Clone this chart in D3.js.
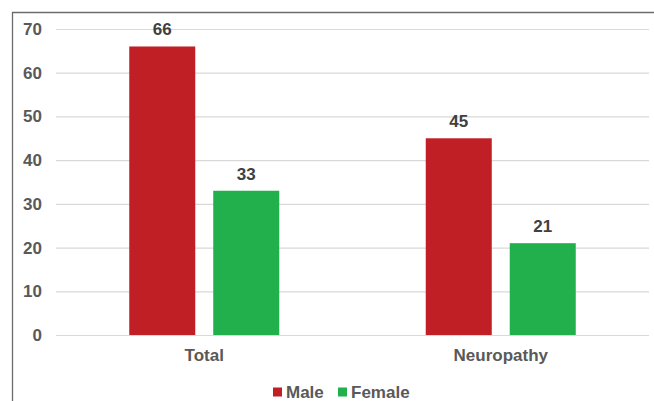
<!DOCTYPE html>
<html>
<head>
<meta charset="utf-8">
<script src="https://cdn.jsdelivr.net/npm/d3@7"></script>
<style>
  html, body { margin: 0; padding: 0; background: #fff; }
  svg { display: block; font-family: "Liberation Sans", Arial, sans-serif; font-weight: bold; }
</style>
</head>
<body>
<svg id="chart" width="654" height="401"></svg>
<script>
// Patient counts by sex
const categories = ["Total", "Neuropathy"];
const seriesNames = ["Male", "Female"];
const maleValues = [66, 45];
const femaleValues = [33, 21];
const yTicks = [0, 10, 20, 30, 40, 50, 60, 70];
const colors = ["#C01F26", "#21B04B"];

const svg = d3.select("#chart");
const W = 654, H = 401;
const margin = { left: 56, right: 5, top: 29, bottom: 66 };
const plotRight = W - margin.right;
const plotBottom = H - margin.bottom;
const groupWidth = 150;

// Outer frame (left and top edges visible)
svg.append("path")
  .attr("d", `M12.5,${H} L12.5,12.5 L${W},12.5`)
  .attr("fill", "none")
  .attr("stroke", "#6b6b6b")
  .attr("stroke-width", 1.3);

const y = d3.scaleLinear().domain([0, 70]).range([plotBottom, margin.top]);
const x0 = d3.scaleBand().domain(categories).range([margin.left, plotRight]).paddingInner(0).paddingOuter(0);
const bw = x0.bandwidth();
const x1 = d3.scaleBand().domain(seriesNames)
  .range([(bw - groupWidth) / 2, (bw + groupWidth) / 2])
  .paddingInner(0.214).paddingOuter(0);

// Gridlines and value axis
const yAxis = d3.axisLeft(y).tickValues(yTicks).tickSize(-(plotRight - margin.left)).tickPadding(14);
const gy = svg.append("g").attr("transform", `translate(${margin.left},0)`).call(yAxis);
gy.select(".domain").remove();
gy.selectAll(".tick line").attr("stroke", "#d9d9d9").attr("stroke-width", 1.2);
gy.selectAll(".tick text")
  .attr("fill", "#595959")
  .attr("font-size", 17)
  .attr("font-weight", "bold")
  .attr("font-family", "Liberation Sans, Arial, sans-serif");

// Bars
const rows = categories.map((c, i) => ({ cat: c, vals: [maleValues[i], femaleValues[i]] }));
const groups = svg.append("g").selectAll("g").data(rows).join("g")
  .attr("transform", d => `translate(${x0(d.cat)},0)`);

const cells = d => d.vals.map((v, j) => ({ key: seriesNames[j], v, j }));

groups.selectAll("rect").data(cells).join("rect")
  .attr("x", d => x1(d.key))
  .attr("y", d => y(d.v))
  .attr("width", x1.bandwidth())
  .attr("height", d => y(0) - y(d.v))
  .attr("fill", d => colors[d.j]);

groups.selectAll("text.val").data(cells).join("text")
  .attr("class", "val")
  .attr("x", d => x1(d.key) + x1.bandwidth() / 2)
  .attr("y", d => y(d.v) - 11)
  .attr("text-anchor", "middle")
  .attr("font-size", 17)
  .attr("fill", "#404040")
  .text(d => d.v);

// Category axis labels
const xAxis = d3.axisBottom(x0).tickSize(0).tickPadding(14);
const gx = svg.append("g").attr("transform", `translate(0,${plotBottom})`).call(xAxis);
gx.select(".domain").remove();
gx.selectAll(".tick text")
  .attr("fill", "#595959")
  .attr("font-size", 17)
  .attr("font-weight", "bold")
  .attr("font-family", "Liberation Sans, Arial, sans-serif");

// Legend
const legend = svg.append("g").attr("transform", "translate(273,392)");
const legendX = [0, 65];
seriesNames.forEach((name, i) => {
  const g = legend.append("g").attr("transform", `translate(${legendX[i]},0)`);
  g.append("rect").attr("x", 0).attr("y", -4.5).attr("width", 9).attr("height", 9).attr("fill", colors[i]);
  g.append("text").attr("x", 13).attr("y", 0).attr("dy", "0.36em")
    .attr("font-size", 17).attr("fill", "#595959").text(name);
});
</script>
</body>
</html>
